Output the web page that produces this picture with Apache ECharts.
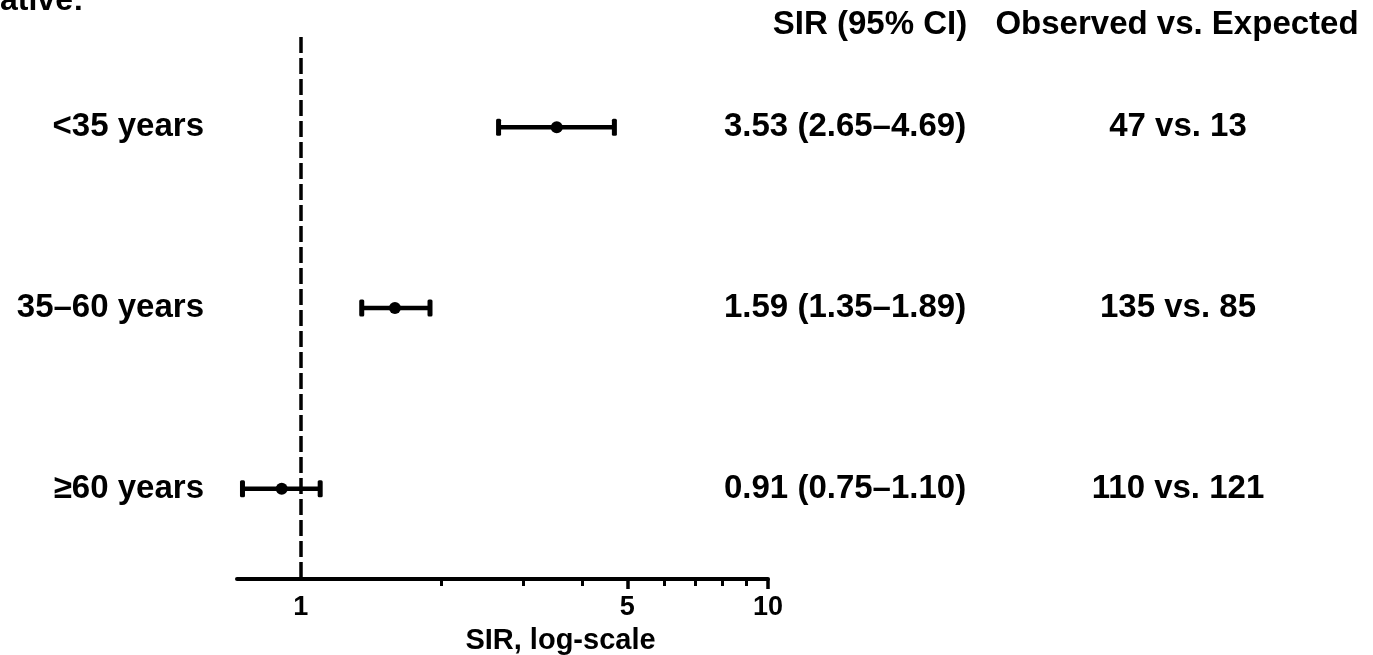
<!DOCTYPE html>
<html>

<head>
	<meta charset="UTF-8">
	<title>SIR forest plot</title>
	<style>
		* {
			margin: 0;
			padding: 0;
		}

		body {
			background: #fff;
		}

		#charts {
			width: 1373px;
			height: 655px;
		}
	</style>
</head>

<body>
	<div id="charts"></div>
</body>
<script src="https://cdn.jsdelivr.net/npm/echarts@6/dist/echarts.min.js"></script>
<script>
	// data
	var groups = ['<35 years', '35\u201360 years', '\u226560 years'];
	var sir = [3.53, 1.59, 0.91];
	var ciLow = [2.65, 1.35, 0.75];
	var ciHigh = [4.69, 1.89, 1.10];
	var observed = [47, 135, 110];
	var expected = [13, 85, 121];
	var labelTicks = [1, 5, 10];
	var majorTicks = [5, 10];
	var minorTicks = [2, 3, 4, 6, 7, 8, 9];

	var font = '"Liberation Sans", Arial, sans-serif';
	var ink = '#000';

	var sirText = [];
	var obsText = [];
	var barData = [];
	var dotData = [];
	for (var i = 0; i < groups.length; i++) {
		sirText.push(sir[i].toFixed(2) + ' (' + ciLow[i].toFixed(2) + '\u2013' + ciHigh[i].toFixed(2) + ')');
		obsText.push(observed[i] + ' vs. ' + expected[i]);
		barData.push([ciLow[i], ciHigh[i], i]);
		dotData.push([sir[i], i]);
	}

	var mycharts = echarts.init(document.getElementById('charts'));

	// 误差线 + 端帽
	function renderBar(params, api) {
		var a = api.coord([api.value(0), api.value(2)]);
		var b = api.coord([api.value(1), api.value(2)]);
		var capH = 17, capW = 5;
		return {
			type: 'group',
			children: [
				{ type: 'line', shape: { x1: a[0], y1: a[1], x2: b[0], y2: b[1] }, style: { stroke: ink, lineWidth: 4.5 } },
				{ type: 'rect', shape: { x: a[0] - capW / 2, y: a[1] - capH / 2, width: capW, height: capH, r: 1.5 }, style: { fill: ink } },
				{ type: 'rect', shape: { x: b[0] - capW / 2, y: b[1] - capH / 2, width: capW, height: capH, r: 1.5 }, style: { fill: ink } }
			]
		};
	}

	var option = {
		animation: false,
		backgroundColor: '#fff',
		textStyle: { fontFamily: font, color: ink },
		grid: { left: 237, right: 605, top: 37, height: 542, outerBoundsMode: 'none', containLabel: false },
		xAxis: [
			{
				type: 'log',
				logBase: 10,
				min: 0.73,
				max: 10,
				position: 'bottom',
				axisLine: { show: true, onZero: false, lineStyle: { color: ink, width: 4 } },
				axisTick: { show: true, inside: false, customValues: majorTicks, length: 10, lineStyle: { color: ink, width: 3.5 } },
				axisLabel: { customValues: labelTicks, color: ink, fontSize: 27, fontWeight: 'bold', margin: 15, fontFamily: font },
				splitLine: { show: false },
				name: 'SIR, log-scale',
				nameLocation: 'middle',
				nameGap: 47,
				nameTextStyle: { color: ink, fontSize: 29, fontWeight: 'bold', fontFamily: font, padding: [0, 0, 0, 116] }
			},
			{
				// 次刻度
				type: 'log',
				logBase: 10,
				min: 0.73,
				max: 10,
				position: 'bottom',
				axisLine: { show: false, onZero: false },
				axisTick: { show: true, inside: false, customValues: minorTicks, length: 7, lineStyle: { color: ink, width: 3 } },
				axisLabel: { show: false },
				splitLine: { show: false }
			}
		],
		yAxis: [
			{
				type: 'category',
				data: groups,
				inverse: true,
				axisLine: { show: false },
				axisTick: { show: false },
				axisLabel: { color: ink, fontSize: 33, fontWeight: 'bold', margin: 33, fontFamily: font }
			},
			{
				type: 'category',
				data: sirText,
				inverse: true,
				position: 'right',
				offset: -44,
				axisLine: { show: false },
				axisTick: { show: false },
				axisLabel: { color: ink, fontSize: 33, fontWeight: 'bold', margin: 0, align: 'left', fontFamily: font }
			},
			{
				type: 'category',
				data: obsText,
				inverse: true,
				position: 'right',
				offset: 410,
				axisLine: { show: false },
				axisTick: { show: false },
				axisLabel: { color: ink, fontSize: 33, fontWeight: 'bold', margin: 0, align: 'center', fontFamily: font }
			}
		],
		graphic: [
			{ type: 'text', x: 0, y: 1, style: { text: 'ative:', fill: ink, font: 'bold 32px ' + font, textAlign: 'left', textVerticalAlign: 'middle' } },
			{ type: 'text', x: 870, y: 25, style: { text: 'SIR (95% CI)', fill: ink, font: 'bold 33px ' + font, textAlign: 'center', textVerticalAlign: 'middle' } },
			{ type: 'text', x: 1177, y: 25, style: { text: 'Observed vs. Expected', fill: ink, font: 'bold 33px ' + font, textAlign: 'center', textVerticalAlign: 'middle' } }
		],
		series: [
			{
				type: 'custom',
				renderItem: renderBar,
				xAxisIndex: 0,
				yAxisIndex: 0,
				encode: { x: [0, 1], y: 2 },
				data: barData,
				silent: true,
				z: 3
			},
			{
				type: 'scatter',
				xAxisIndex: 0,
				yAxisIndex: 0,
				symbol: 'circle',
				symbolSize: 12,
				itemStyle: { color: ink, opacity: 1 },
				data: dotData,
				silent: true,
				z: 4,
				markLine: {
					silent: true,
					symbol: ['none', 'none'],
					label: { show: false },
					lineStyle: { color: ink, width: 3.5, type: [16, 5] },
					data: [{ xAxis: 1 }]
				}
			}
		]
	};

	mycharts.setOption(option);
</script>

</html>
